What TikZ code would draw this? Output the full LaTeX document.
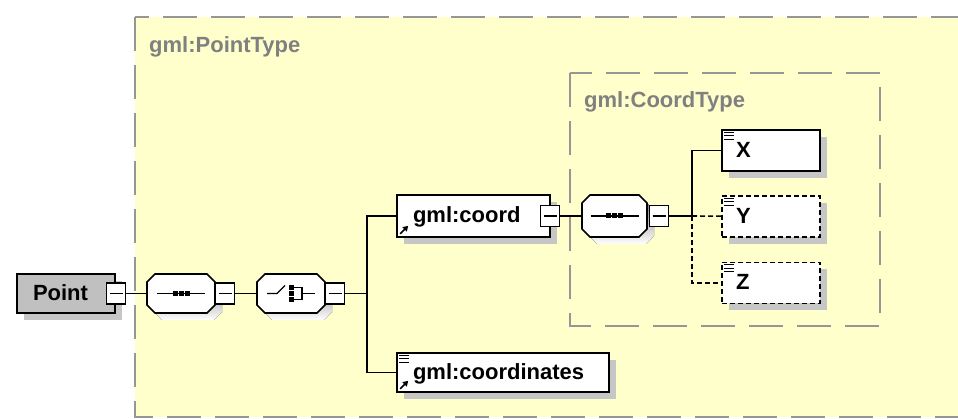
\documentclass[tikz,border=0pt]{standalone}
\usepackage{fontspec}
\setmainfont{Liberation Sans}
\usetikzlibrary{arrows.meta, positioning, shadows}
\definecolor{typebg}{RGB}{255,255,204}
\definecolor{typeline}{RGB}{150,150,150}
\definecolor{typetext}{RGB}{128,128,128}
\definecolor{rootfill}{RGB}{192,192,192}
\definecolor{shade}{RGB}{198,198,198}

\tikzset{
  pics/compframe/.style 2 args={code={
    \fill[shade, shift={(7,7)}] (-#1+8,-#2) -- (#1-8,-#2) -- (#1,-#2+8) -- (#1,#2-8)
      -- (#1-8,#2) -- (-#1+8,#2) -- (-#1,#2-8) -- (-#1,-#2+8) -- cycle;
    \draw[line width=1.7pt, fill=white] (-#1+8,-#2) -- (#1-8,-#2) -- (#1,-#2+8) -- (#1,#2-8)
      -- (#1-8,#2) -- (-#1+8,#2) -- (-#1,#2-8) -- (-#1,-#2+8) -- cycle;
  }},
  seqmark/.pic={
    \draw[line width=1.4pt] (-24,0) -- (24,0);
    \foreach \dx in {-6,0,6} \fill (\dx-2.5,-2.5) rectangle (\dx+2.5,2.5);
  },
  choicemark/.pic={
    \draw[line width=1.4pt] (-24,0) -- (-14,0) -- (-6,-8);
    \foreach \dy in {-6,0,6} \fill (-2.5,\dy-2.5) rectangle (2.5,\dy+2.5);
    \draw[line width=1.4pt] (3,-6) -| (11,6) -- (3,6) (11,0) -- (24,0);
  },
  refmark/.pic={
    \draw[line width=1.5pt, -{Triangle[length=5pt, width=6pt]}] (4,-4) -- (12,-12);
  },
  docmark/.pic={
    \foreach \dy in {3,6.5,10} \draw[line width=1.1pt] (3,\dy) -- (13,\dy);
  }
}

\begin{document}
\begin{tikzpicture}[x=1pt, y=-1pt,
    typebox/.style={draw=typeline, line width=1.8pt, dash pattern=on 34pt off 14pt},
    typelabel/.style={anchor=base west, inner sep=0pt, text=typetext,
      font=\bfseries\fontsize{22}{26}\selectfont},
    elem/.style={draw, line width=1.7pt, fill=white, inner xsep=16pt, inner ysep=0pt,
      align=left, text height=16pt, text depth=2pt,
      font=\bfseries\fontsize{22}{26}\selectfont,
      drop shadow={shadow xshift=7pt, shadow yshift=-7pt, fill=shade, opacity=1}},
    leaf/.style={elem, inner xsep=14pt, text width=70pt, minimum height=41pt},
    optional/.style={dash pattern=on 5pt off 3pt},
    compositor/.style={inner sep=0pt, minimum width=68pt, minimum height=39pt},
    foldbox/.style={draw, line width=1.5pt, fill=white, inner sep=0pt,
      minimum width=19pt, minimum height=21pt,
      path picture={\draw[line width=1.3pt] ([xshift=3pt]path picture bounding box.west)
        -- ([xshift=-3pt]path picture bounding box.east);}},
    conn/.style={line width=1.6pt}
  ]
  \path[use as bounding box, fill=white] (0,0) rectangle (958,419);

  \draw[typebox, fill=typebg] (135,17) rectangle (990,417);
  \node[typelabel] (ptypelbl) at (149,53) {gml:PointType};
  \draw[typebox] (570,73) rectangle (880,326);
  \node[typelabel] (ctypelbl) at (584,108) {gml:CoordType};

  \node[elem, fill=rootfill, text width=66pt, minimum height=39pt] (point) at (66,293.5) {Point};
  \node[foldbox] (pointfold) at (116,293.5) {};
  \node[compositor] (seq1) at (181,293.5) {};
  \pic at (seq1) {compframe={34}{19.5}};
  \pic at (seq1) {seqmark};
  \node[foldbox] (seq1fold) at (225,293.5) {};
  \node[compositor] (choice) at (291,293.5) {};
  \pic at (choice) {compframe={34}{19.5}};
  \pic at (choice) {choicemark};
  \node[foldbox] (choicefold) at (335,293.5) {};
  \coordinate (j1) at (367,293.5);

  \node[elem, text width=121pt, minimum height=42pt] (coord) at (473.5,216) {gml:coord};
  \pic at (coord.south west) {refmark};
  \node[foldbox] (coordfold) at (550,216) {};
  \node[elem, text width=180pt, minimum height=39pt] (coords) at (503,372.5) {gml:coordinates};
  \pic at (coords.south west) {refmark};
  \pic at (coords.north west) {docmark};

  \node[compositor, minimum width=65pt, minimum height=42pt] (seq2) at (614.5,216) {};
  \pic at (seq2) {compframe={32.5}{21}};
  \pic at (seq2) {seqmark};
  \node[foldbox] (seq2fold) at (659,216) {};
  \coordinate (j2) at (692,216);

  \node[leaf] (x) at (771,150.5) {X};
  \pic at (x.north west) {docmark};
  \node[leaf, optional] (y) at (771,216.5) {Y};
  \pic at (y.north west) {docmark};
  \node[leaf, optional] (z) at (771,283) {Z};
  \pic at (z.north west) {docmark};

  \draw[conn] (pointfold) -- (seq1);
  \draw[conn] (seq1fold) -- (choice);
  \draw[conn] (choicefold) -- (j1);
  \draw[conn] (coord) -| (j1) |- (coords);
  \draw[conn] (coordfold) -- (seq2);
  \draw[conn] (seq2fold) -- (j2);
  \draw[conn] (x) -| (j2);
  \draw[conn, optional] (j2) -- (y);
  \draw[conn, optional] (j2) |- (z);
\end{tikzpicture}
\end{document}
